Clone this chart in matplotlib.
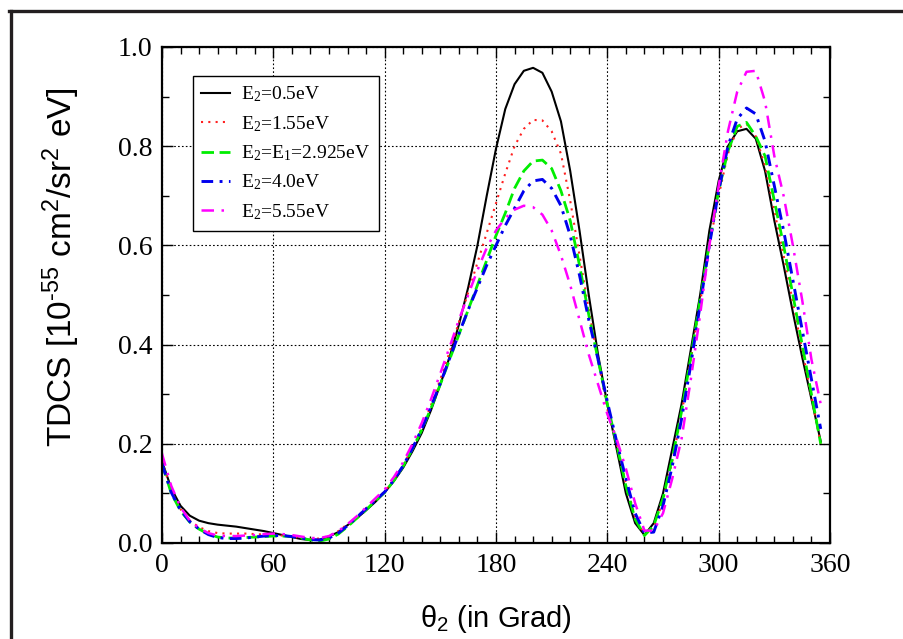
import matplotlib
matplotlib.use("Agg")
import matplotlib.pyplot as plt
from matplotlib.lines import Line2D
from matplotlib.ticker import MultipleLocator, FormatStrFormatter

plt.rcParams['mathtext.default'] = 'regular'

theta = list(range(0, 360, 5))

e_05 = [0.165, 0.11, 0.075, 0.055, 0.045, 0.040, 0.037, 0.035, 0.033, 0.030,
        0.027, 0.024, 0.020, 0.016, 0.012, 0.008, 0.006, 0.007, 0.013, 0.022,
        0.036, 0.050, 0.066, 0.083, 0.102, 0.125, 0.152, 0.185, 0.222, 0.268,
        0.320, 0.375, 0.440, 0.515, 0.600, 0.700, 0.795, 0.875, 0.925, 0.952,
        0.958, 0.948, 0.910, 0.850, 0.750, 0.630, 0.500, 0.380, 0.280, 0.190,
        0.100, 0.040, 0.016, 0.040, 0.100, 0.190, 0.280, 0.390, 0.500, 0.630,
        0.730, 0.800, 0.830, 0.835, 0.815, 0.750, 0.650, 0.560, 0.465, 0.375,
        0.290, 0.205]

e_155 = [0.165, 0.105, 0.068, 0.045, 0.032, 0.024, 0.020, 0.019, 0.019, 0.019,
         0.018, 0.017, 0.016, 0.015, 0.013, 0.010, 0.008, 0.009, 0.014, 0.024,
         0.038, 0.053, 0.070, 0.086, 0.104, 0.128, 0.157, 0.192, 0.232, 0.278,
         0.330, 0.385, 0.445, 0.505, 0.565, 0.625, 0.685, 0.745, 0.800, 0.835,
         0.853, 0.852, 0.830, 0.785, 0.690, 0.580, 0.470, 0.370, 0.270, 0.200,
         0.120, 0.052, 0.017, 0.030, 0.085, 0.165, 0.260, 0.370, 0.485, 0.600,
         0.700, 0.785, 0.835, 0.845, 0.820, 0.760, 0.670, 0.580, 0.485, 0.390,
         0.295, 0.200]

e_2925 = [0.160, 0.100, 0.065, 0.042, 0.028, 0.018, 0.012, 0.010, 0.010, 0.011,
          0.012, 0.013, 0.014, 0.014, 0.013, 0.010, 0.006, 0.004, 0.008, 0.018,
          0.033, 0.050, 0.067, 0.085, 0.102, 0.126, 0.155, 0.190, 0.228, 0.272,
          0.320, 0.370, 0.420, 0.470, 0.520, 0.570, 0.620, 0.665, 0.715, 0.750,
          0.770, 0.772, 0.755, 0.710, 0.650, 0.560, 0.460, 0.370, 0.280, 0.200,
          0.115, 0.048, 0.015, 0.035, 0.090, 0.170, 0.265, 0.375, 0.490, 0.605,
          0.710, 0.790, 0.840, 0.848, 0.820, 0.780, 0.690, 0.600, 0.500, 0.400,
          0.300, 0.200]

e_40 = [0.160, 0.102, 0.066, 0.043, 0.028, 0.017, 0.011, 0.009, 0.009, 0.010,
        0.012, 0.014, 0.015, 0.015, 0.013, 0.010, 0.007, 0.006, 0.010, 0.020,
        0.035, 0.052, 0.069, 0.086, 0.103, 0.127, 0.156, 0.191, 0.230, 0.275,
        0.322, 0.372, 0.422, 0.470, 0.515, 0.560, 0.600, 0.640, 0.675, 0.710,
        0.730, 0.733, 0.715, 0.680, 0.620, 0.540, 0.450, 0.370, 0.285, 0.205,
        0.130, 0.060, 0.020, 0.022, 0.075, 0.155, 0.250, 0.360, 0.480, 0.600,
        0.710, 0.800, 0.855, 0.877, 0.865, 0.810, 0.720, 0.630, 0.530, 0.430,
        0.330, 0.230]

e_555 = [0.180, 0.115, 0.072, 0.045, 0.030, 0.020, 0.015, 0.014, 0.014, 0.015,
         0.016, 0.018, 0.019, 0.018, 0.016, 0.013, 0.010, 0.010, 0.014, 0.024,
         0.038, 0.054, 0.072, 0.090, 0.108, 0.133, 0.163, 0.200, 0.242, 0.290,
         0.342, 0.395, 0.450, 0.500, 0.550, 0.595, 0.630, 0.655, 0.672, 0.680,
         0.677, 0.662, 0.630, 0.580, 0.520, 0.450, 0.380, 0.320, 0.260, 0.210,
         0.150, 0.080, 0.025, 0.025, 0.060, 0.130, 0.210, 0.330, 0.460, 0.600,
         0.720, 0.830, 0.910, 0.950, 0.952, 0.890, 0.780, 0.700, 0.600, 0.490,
         0.370, 0.280]

labels = ['E$_2$=0.5eV', 'E$_2$=1.55eV', 'E$_2$=E$_1$=2.925eV',
          'E$_2$=4.0eV', 'E$_2$=5.55eV']
series = [e_05, e_155, e_2925, e_40, e_555]
colors = ['black', '#ff2020', '#00ee00', '#0000ee', '#ff00ff']
lws = [1.5, 1.5, 2.0, 2.1, 1.8]
styles = ['-', (0, (1, 2.5)), (0, (4.5, 2.0)), (0, (4.0, 2.2, 1.0, 2.2)),
          (0, (5.0, 3.0, 1.0, 3.0))]

fig = plt.figure(figsize=(9.04, 6.39), dpi=100)
ax = fig.add_axes([162/904, 1-543/639, (830-162)/904, (543-47)/639])

for y, lab, c, lw, ls in zip(series, labels, colors, lws, styles):
    ax.plot(theta, y, color=c, lw=lw, linestyle=ls, label=lab)

ax.set_xlim(0, 360)
ax.set_ylim(0, 1.0)
ax.xaxis.set_major_locator(MultipleLocator(60))
ax.xaxis.set_minor_locator(MultipleLocator(10))
ax.yaxis.set_major_locator(MultipleLocator(0.2))
ax.yaxis.set_minor_locator(MultipleLocator(0.1))
ax.yaxis.set_major_formatter(FormatStrFormatter('%.1f'))
ax.tick_params(which='both', direction='in', top=True, right=True, width=1.0)
ax.tick_params(which='major', length=8, pad=7, labelsize=20)
ax.tick_params(which='minor', length=5)
for lab in ax.get_xticklabels() + ax.get_yticklabels():
    lab.set_family('Liberation Serif')
for sp in ax.spines.values():
    sp.set_linewidth(1.6)

ax.grid(True, which='major', color='black', lw=0.8, linestyle=(0, (1.5, 2.0)))

ax.set_xlabel('θ$_2$ (in Grad)', family='Liberation Sans', fontsize=21, labelpad=18)
ax.set_ylabel('TDCS [10$^{\u201055}$ cm$^2$/sr$^2$ eV]', family='Liberation Sans',
              fontsize=24)
ax.yaxis.set_label_coords(-0.12, 0.556)

leg = ax.legend(loc='upper left', bbox_to_anchor=(0.046, 0.942),
                prop={'family': 'Liberation Serif', 'size': 14},
                frameon=True, fancybox=False, framealpha=1, edgecolor='black',
                handlelength=1.45, handletextpad=0.6, labelspacing=0.5,
                borderpad=0.45, borderaxespad=0)
leg.get_frame().set_linewidth(1.0)

fig.add_artist(Line2D([9/904, 1], [1-10.5/639, 1-10.5/639], transform=fig.transFigure,
                      color='#231f20', lw=2.4))
fig.add_artist(Line2D([11/904, 11/904], [0, 1-10.5/639], transform=fig.transFigure,
                      color='#231f20', lw=2.4))

fig.savefig('out.png', dpi=100)
